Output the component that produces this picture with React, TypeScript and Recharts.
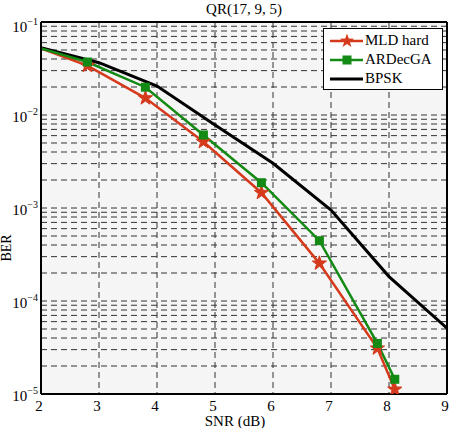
import { LineChart, Line, XAxis, YAxis, CartesianGrid, ReferenceLine, Legend } from "recharts";

const X_TICKS = [2, 3, 4, 5, 6, 7, 8, 9];
const Y_DECADES = [1e-5, 1e-4, 1e-3, 1e-2, 1e-1];
const Y_EXPONENTS = ["−5", "−4", "−3", "−2", "−1"];

// coded schemes share the same SNR points
const SNR_CODED = [2, 2.8, 3.8, 4.8, 5.8, 6.8, 7.8, 8.1];
const MLD_HARD = [0.052, 0.0339, 0.0152, 0.00516, 0.00146, 0.000254, 0.000031, 0.0000112];
const ARDEC_GA = [0.052, 0.0371, 0.0199, 0.0061, 0.00187, 0.000445, 0.000035, 0.0000144];

const SNR_BPSK = [2, 3, 4, 5, 6, 7, 8, 9];
const BPSK = [0.053, 0.0365, 0.0205, 0.0078, 0.00303, 0.00095, 0.000183, 0.000051];

const RED = "#d63a1c";
const GREEN = "#138a13";
const FONT = "'Liberation Serif', 'Times New Roman', serif";

// minor log grid: 1..9 x each decade
const Y_GRID = Y_DECADES.slice(0, -1).flatMap((d) => [1, 2, 3, 4, 5, 6, 7, 8, 9].map((m) => m * d)).concat([1e-1]);

const mldData = SNR_CODED.map((x, i) => ({ x, y: MLD_HARD[i] }));
const gaData = SNR_CODED.map((x, i) => ({ x, y: ARDEC_GA[i] }));
const bpskData = SNR_BPSK.map((x, i) => ({ x, y: BPSK[i] }));

function starPath(cx: number, cy: number, R: number, r: number) {
  let d = "";
  for (let k = 0; k < 10; k++) {
    const a = -Math.PI / 2 + (k * Math.PI) / 5;
    const rad = k % 2 === 0 ? R : r;
    d += (k === 0 ? "M" : "L") + (cx + rad * Math.cos(a)).toFixed(2) + "," + (cy + rad * Math.sin(a)).toFixed(2);
  }
  return d + "Z";
}

const StarDot = (p: any) =>
  p.index === 0 ? <g key={p.index} /> : <path key={p.index} d={starPath(p.cx, p.cy, 7.5, 3)} fill={RED} stroke={RED} strokeWidth={1} />;

const SquareDot = (p: any) =>
  p.index === 0 ? <g key={p.index} /> : <rect key={p.index} x={p.cx - 4.5} y={p.cy - 4.5} width={9} height={9} fill={GREEN} />;

const XTick = ({ x, y, payload }: any) => (
  <text x={x - 2} y={y + 9} textAnchor="middle" fontSize={15} fontFamily={FONT} fill="#000">
    {payload.value}
  </text>
);

const YTick = ({ y, payload }: any) => {
  const i = Y_DECADES.findIndex((d) => Math.abs(d - payload.value) / d < 1e-6);
  if (i < 0) return <g />;
  return (
    <text x={38} y={y + (i === Y_DECADES.length - 1 ? 10 : 7)} textAnchor="end" fontSize={15} fontFamily={FONT} fill="#000">
      <tspan>10</tspan>
      <tspan dy={-7} fontSize={10}>{Y_EXPONENTS[i]}</tspan>
    </text>
  );
};

const LEGEND_ROWS = [
  { name: "MLD hard", color: RED, marker: "star" },
  { name: "ARDecGA", color: GREEN, marker: "square" },
  { name: "BPSK", color: "#000", marker: "none" },
];

const renderLegend = () => (
  <div style={{ border: "1px solid #000", background: "#fff", width: 120, height: 62, boxSizing: "border-box", paddingTop: 2 }}>
    {LEGEND_ROWS.map((r) => (
      <div key={r.name} style={{ display: "flex", alignItems: "center", height: 19 }}>
        <svg width={41} height={19} style={{ display: "block" }}>
          <line x1={6} x2={39} y1={10} y2={10} stroke={r.color} strokeWidth={r.marker === "none" ? 3 : 2.5} />
          {r.marker === "star" && <path d={starPath(23, 10, 7.5, 3)} fill={RED} />}
          {r.marker === "square" && <rect x={18.5} y={5.5} width={9} height={9} fill={GREEN} />}
        </svg>
        <span style={{ fontFamily: FONT, fontSize: 15, lineHeight: "19px", color: "#000" }}>{r.name}</span>
      </div>
    ))}
  </div>
);

export default function App() {
  return (
    <div style={{ position: "absolute", left: 0, top: 0, width: 452, height: 428, background: "#fff", overflow: "hidden" }}>
      <div style={{ position: "absolute", left: 0, width: 488, top: 0, textAlign: "center", fontFamily: FONT, fontSize: 15, lineHeight: "19px", color: "#000" }}>
        QR(17, 9, 5)
      </div>
      <LineChart width={452} height={428} margin={{ top: 22, right: 5, left: 0, bottom: 0 }}>
        <CartesianGrid fill="#f5f5f5" stroke="#333" strokeDasharray="6 4" strokeWidth={1} />
        <XAxis
          type="number"
          dataKey="x"
          domain={[2, 9]}
          ticks={X_TICKS}
          height={34}
          stroke="#000"
          strokeWidth={2}
          tickLine={false}
          tick={<XTick />}
          allowDataOverflow
          label={{
            content: () => (
              <text x={235} y={426} textAnchor="middle" fontSize={15} fontFamily={FONT} fill="#000">
                SNR (dB)
              </text>
            ),
          }}
        />
        <YAxis
          type="number"
          scale="log"
          domain={[1e-5, 1e-1]}
          ticks={Y_GRID}
          width={41}
          stroke="#000"
          strokeWidth={2}
          tickLine={false}
          tick={<YTick />}
          interval={0}
          allowDataOverflow
          label={{
            content: () => (
              <text x={11} y={248} transform="rotate(-90, 11, 248)" textAnchor="middle" fontSize={14} fontFamily={FONT} fill="#000">
                BER
              </text>
            ),
          }}
        />
        <ReferenceLine y={1e-1} stroke="#000" strokeWidth={2} />
        <ReferenceLine x={9} stroke="#000" strokeWidth={2} />
        <Line data={bpskData} dataKey="y" name="BPSK" stroke="#000" strokeWidth={3} dot={false} isAnimationActive={false} />
        <Line data={mldData} dataKey="y" name="MLD hard" stroke={RED} strokeWidth={2.5} dot={StarDot} isAnimationActive={false} />
        <Line data={gaData} dataKey="y" name="ARDecGA" stroke={GREEN} strokeWidth={2.5} dot={SquareDot} isAnimationActive={false} />
        <Legend
          content={renderLegend}
          verticalAlign="top"
          wrapperStyle={{ position: "absolute", left: 323, top: 28, width: 0, height: 0, overflow: "visible" }}
        />
      </LineChart>
    </div>
  );
}
